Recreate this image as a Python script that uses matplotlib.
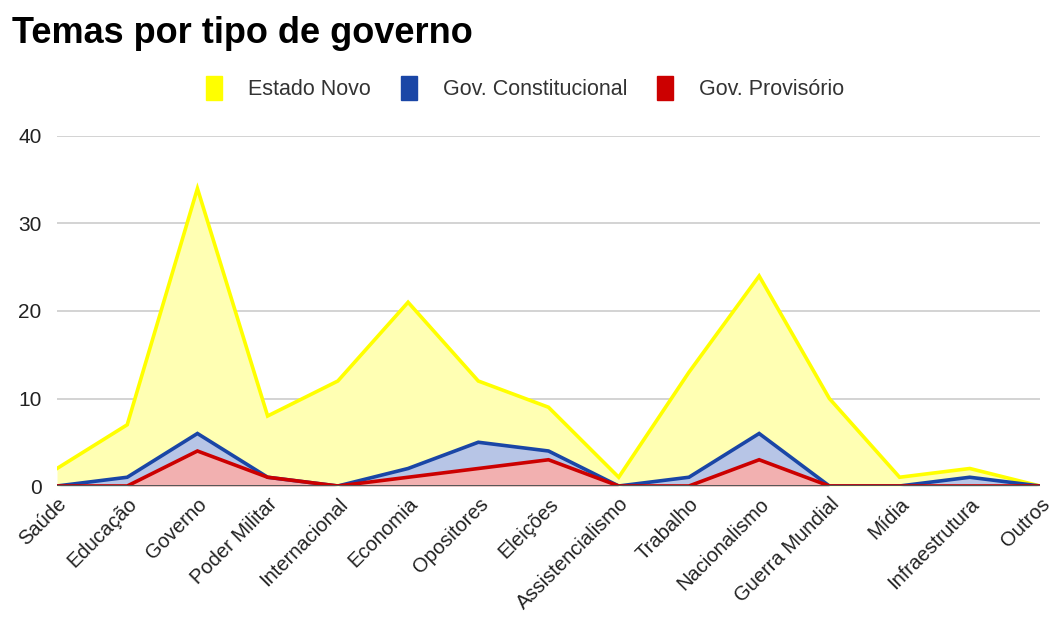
import matplotlib.pyplot as plt
from matplotlib.patches import Patch
import numpy as np

plt.rcParams['font.family'] = ['Liberation Sans', 'DejaVu Sans']

temas = ['Saúde', 'Educação', 'Governo', 'Poder Militar', 'Internacional', 'Economia',
         'Opositores', 'Eleições', 'Assistencialismo', 'Trabalho', 'Nacionalismo',
         'Guerra Mundial', 'Mídia', 'Infraestrutura', 'Outros']
estado_novo = [2, 7, 34, 8, 12, 21, 12, 9, 1, 13, 24, 10, 1, 2, 0]
constitucional = [0, 1, 6, 1, 0, 2, 5, 4, 0, 1, 6, 0, 0, 1, 0]
provisorio = [0, 0, 4, 1, 0, 1, 2, 3, 0, 0, 3, 0, 0, 0, 0]

series = [
    ('Estado Novo', estado_novo, '#FFFF00', '#FFFFB3'),
    ('Gov. Constitucional', constitucional, '#1A46A6', '#B7C5E6'),
    ('Gov. Provisório', provisorio, '#CC0000', '#F2B0B0'),
]

fig = plt.figure(figsize=(10.52, 6.23), dpi=100)
ax = fig.add_axes([57 / 1052, 137 / 623, 983 / 1052, 350 / 623])

x = np.arange(len(temas))
for nome, valores, cor, fundo in series:
    ax.fill_between(x, valores, 0, color=fundo, lw=0, zorder=2)
    ax.plot(x, valores, color=cor, lw=2.6, zorder=3, solid_joinstyle='miter')

ax.set_xlim(0, len(temas) - 1)
ax.set_ylim(0, 40)
ax.set_yticks([0, 10, 20, 30, 40])
ax.yaxis.grid(True, color='#cccccc', lw=1.2, zorder=0)
ax.axhline(0, color='#555555', lw=1.4, zorder=4)
for lado in ax.spines.values():
    lado.set_visible(False)
ax.tick_params(axis='both', length=0, colors='#222222')
ax.tick_params(axis='y', labelsize=15, pad=11)
ax.set_xticks(x)
ax.set_xticklabels(temas, rotation=45, ha='right', rotation_mode='anchor', fontsize=14.5)
ax.tick_params(axis='x', pad=6)

fig.text(0.011, 0.947, 'Temas por tipo de governo', fontsize=26, fontweight='bold', va='center')

handles = [Patch(facecolor=c, edgecolor=c) for _, _, c, _ in series]
fig.legend(handles, [s[0] for s in series], loc='center', bbox_to_anchor=(0.499, 0.858),
           ncol=3, frameon=False, fontsize=15.5, handlelength=0.75, handleheight=1.3,
           columnspacing=1.4, handletextpad=1.2, labelcolor='#333333')

fig.savefig('out.png', dpi=100)
